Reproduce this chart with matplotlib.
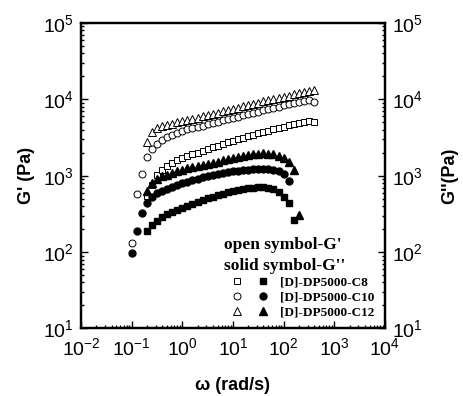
import matplotlib
matplotlib.use('Agg')
import matplotlib.pyplot as plt
from matplotlib.ticker import LogLocator, NullFormatter
from matplotlib.legend_handler import HandlerTuple

# angular frequency (rad/s), 10 points per decade
omega = [0.1, 0.126, 0.158, 0.2, 0.251, 0.316, 0.398, 0.501, 0.631, 0.794,
         1.0, 1.26, 1.58, 2.0, 2.51, 3.16, 3.98, 5.01, 6.31, 7.94,
         10.0, 12.6, 15.8, 20.0, 25.1, 31.6, 39.8, 50.1, 63.1, 79.4,
         100.0, 126.0, 158.0, 200.0, 251.0, 316.0, 398.0]

# storage modulus G' (open symbols), first point index in omega
start_c8, start_c10, start_c12 = 3, 0, 3
g1_c8 = [537, 759, 1023, 1202, 1349, 1479, 1585, 1698, 1799, 1905,
         1995, 2089, 2213, 2344, 2455, 2570, 2723, 2851, 2985, 3126,
         3273, 3428, 3589, 3758, 3890, 4074, 4217, 4365, 4571, 4732,
         4898, 5070, 5248, 5012]
g1_c10 = [132, 575, 1047, 1758, 2239, 2630, 2951, 3236, 3428, 3631,
          3890, 4046, 4207, 4365, 4539, 4721, 4898, 5093, 5297, 5495,
          5715, 5943, 6166, 6412, 6668, 6918, 7194, 7482, 7762, 8035,
          8318, 8610, 8913, 9226, 9550, 9772, 9333]
g1_c12 = [2800, 3776, 4227, 4487, 4645, 4808, 4977, 5152, 5346, 5559,
          5768, 5984, 6223, 6457, 6699, 6966, 7228, 7499, 7798, 8091,
          8395, 8710, 9057, 9397, 9772, 10116, 10471, 10839, 11220, 11614,
          12023, 12445, 12882, 13183]

# loss modulus G'' (solid symbols)
g2_c8 = [191, 226, 257, 288, 316, 339, 359, 380, 403, 427,
         452, 479, 507, 531, 556, 582, 610, 631, 653, 673,
         689, 700, 708, 708, 700, 676, 617, 525, 437, 263]
g2_c10 = [98, 191, 324, 441, 525, 589, 631, 676, 716, 755,
          794, 832, 871, 912, 951, 989, 1023, 1059, 1091, 1122,
          1148, 1169, 1189, 1205, 1219, 1227, 1230, 1225, 1202, 1148,
          1047, 851]
g2_c12 = [631, 805, 912, 977, 1035, 1096, 1148, 1197, 1245, 1288,
          1334, 1380, 1429, 1479, 1531, 1585, 1641, 1698, 1758, 1820,
          1884, 1928, 1950, 1963, 1950, 1905, 1820, 1718, 1531, 1202,
          309]

samples = ['[D]-DP5000-C8', '[D]-DP5000-C10', '[D]-DP5000-C12']
markers = ['s', 'o', '^']
sizes = [4.6, 5.0, 5.6]

plt.rcParams['font.family'] = ['Liberation Sans', 'DejaVu Sans']
plt.rcParams['mathtext.default'] = 'regular'

fig = plt.figure(figsize=(4.64, 3.96), dpi=100)
ax = fig.add_axes([0.1746, 0.1705, 0.655, 0.7715])

handles = []
series = [(start_c8, g1_c8, g2_c8), (start_c10, g1_c10, g2_c10),
          (start_c12, g1_c12, g2_c12)]
for (start, gp, gpp), m, ms in zip(series, markers, sizes):
    h1, = ax.plot(omega[start:start + len(gp)], gp, ls='none', marker=m,
                  ms=ms, mfc='white', mec='black', mew=0.7)
    h2, = ax.plot(omega[start:start + len(gpp)], gpp, ls='none', marker=m,
                  ms=ms, color='black')
    handles.append((h1, h2))

ax.set_xscale('log')
ax.set_yscale('log')
ax.set_xlim(1e-2, 1e4)
ax.set_ylim(1e1, 1e5)

for axis in [ax.xaxis, ax.yaxis]:
    axis.set_major_locator(LogLocator(base=10, numticks=12))
    axis.set_minor_locator(LogLocator(base=10, subs=range(2, 10), numticks=12))
    axis.set_minor_formatter(NullFormatter())

ax.tick_params(which='both', direction='in', top=False, right=False,
               width=1.0, labelsize=14)
ax.tick_params(which='major', length=5, pad=5)
ax.tick_params(axis='x', which='major', pad=6.5)
ax.tick_params(which='minor', length=2.5)
for s in ax.spines.values():
    s.set_linewidth(1.6)

ax2 = ax.twinx()
ax2.set_yscale('log')
ax2.set_ylim(1e1, 1e5)
ax2.yaxis.set_major_locator(LogLocator(base=10, numticks=12))
ax2.yaxis.set_minor_locator(LogLocator(base=10, subs=range(2, 10), numticks=12))
ax2.yaxis.set_minor_formatter(NullFormatter())
ax2.tick_params(which='both', direction='in', width=1.0, labelsize=14)
ax2.tick_params(which='major', length=5, pad=5)
ax2.tick_params(which='minor', length=2.5)
for s in ax2.spines.values():
    s.set_linewidth(1.6)

ax.set_xlabel('ω (rad/s)', fontsize=13, fontweight='bold', labelpad=13)
ax.set_ylabel("G' (Pa)", fontsize=13, fontweight='bold', labelpad=6)
ax2.set_ylabel("G''(Pa)", fontsize=13, fontweight='bold', labelpad=13)

leg = ax.legend(handles, samples,
                handler_map={tuple: HandlerTuple(ndivide=None, pad=0)},
                title="open symbol-G'\nsolid symbol-G''",
                loc='upper left', bbox_to_anchor=(0.47, 0.30),
                frameon=False, borderpad=0, borderaxespad=0,
                handlelength=4, handletextpad=0.25, labelspacing=0.2,
                alignment='left',
                prop={'family': 'Liberation Serif', 'weight': 'bold', 'size': 9.5},
                title_fontproperties={'family': 'Liberation Serif',
                                      'weight': 'bold', 'size': 12.5})
leg.get_title().set_linespacing(1.4)

fig.savefig('out.png', dpi=100)
